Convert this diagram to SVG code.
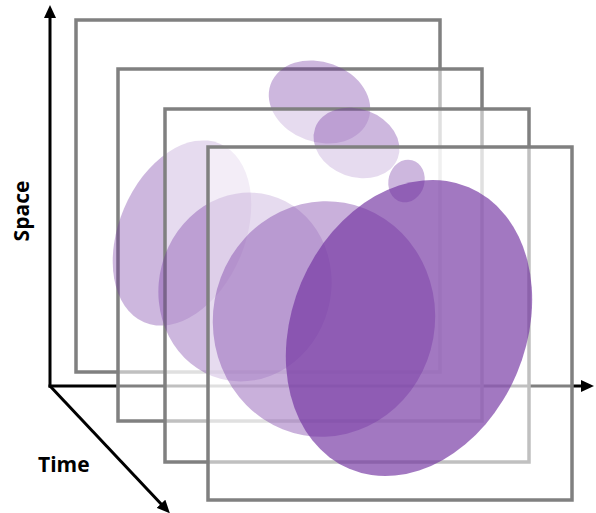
<svg xmlns="http://www.w3.org/2000/svg" width="596" height="513" viewBox="0 0 596 513">
  <style>
    .axis { stroke: #000; stroke-width: 3; fill: none; }
    .frame { fill: #fff; fill-opacity: 0.5; stroke: #808080; stroke-width: 3.5; }
    .blob { fill: #7030a0; fill-opacity: 0.35; }
    .mid { fill: #7030a0; fill-opacity: 0.38; }
    .dark { fill: #7030a0; fill-opacity: 0.65; }
    .label { font-family: "Open Sans", "Noto Sans", "Liberation Sans", sans-serif; font-weight: bold; font-size: 21px; fill: #000; }
  </style>
  <defs>
    <marker id="ah" viewBox="0 0 13 12" refX="3" refY="6" markerWidth="13" markerHeight="12" orient="auto" markerUnits="userSpaceOnUse">
      <path d="M0,0 L13,6 L0,12 z" fill="#000"/>
    </marker>
  </defs>

  <g id="connectors">
    <line class="axis" x1="50" y1="387.5" x2="50" y2="15" marker-end="url(#ah)"/>
    <line class="axis" x1="48.5" y1="386" x2="584" y2="386" marker-end="url(#ah)"/>
    <line class="axis" x1="50" y1="386" x2="163" y2="506" marker-end="url(#ah)"/>
  </g>

  <g id="label-space">
    <text class="label" transform="translate(29,211) rotate(-90)" text-anchor="middle">Space</text>
  </g>
  <g id="label-time">
    <text class="label" x="38" y="472">Time</text>
  </g>

  <g id="frame1">
    <rect class="frame" x="76" y="20" width="364" height="352"/>
  </g>

  <g id="frame2">
    <rect class="frame" x="118" y="69" width="364" height="352"/>
    <ellipse class="blob" cx="0" cy="0" rx="63" ry="97" transform="translate(182,233) rotate(23)"/>
    <ellipse class="blob" cx="0" cy="0" rx="52" ry="40" transform="translate(319.5,102) rotate(20)"/>
  </g>

  <g id="frame3">
    <rect class="frame" x="165" y="109" width="364" height="353"/>
    <ellipse class="blob" cx="0" cy="0" rx="44" ry="34" transform="translate(356.5,143) rotate(20)"/>
    <ellipse class="blob" cx="0" cy="0" rx="86" ry="95" transform="translate(245,287) rotate(15)"/>
  </g>

  <g id="frame4">
    <rect class="frame" x="208" y="147" width="364" height="353"/>
    <ellipse class="mid" cx="0" cy="0" rx="111" ry="118" transform="translate(324,319) rotate(10)"/>
    <ellipse class="dark" cx="0" cy="0" rx="117" ry="153" transform="translate(409,328) rotate(23)"/>
    <ellipse class="blob" cx="0" cy="0" rx="18" ry="21.5" transform="translate(406.5,181) rotate(15)"/>
  </g>
</svg>
